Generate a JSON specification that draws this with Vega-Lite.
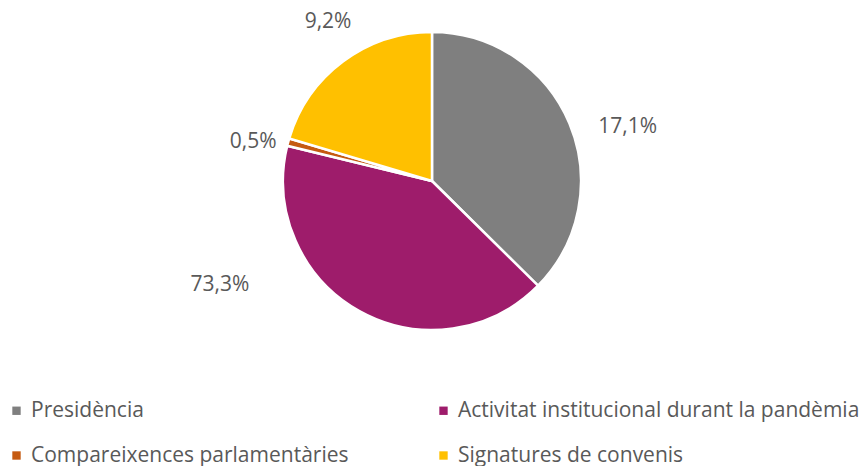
{
  "$schema": "https://vega.github.io/schema/vega-lite/v6.json",
  "width": 864,
  "height": 362,
  "autosize": {"type": "none"},
  "padding": {"top": 0, "left": 0, "right": 0, "bottom": 104},
  "background": "white",
  "config": {"view": {"stroke": null}, "font": "Open Sans"},
  "data": {
    "values": [
      {"category": "Presidència", "share": 37.4, "label": "17,1%", "rank": 1},
      {"category": "Activitat institucional durant la pandèmia", "share": 41.4, "label": "73,3%", "rank": 2},
      {"category": "Compareixences parlamentàries", "share": 0.8, "label": "0,5%", "rank": 3},
      {"category": "Signatures de convenis", "share": 20.4, "label": "9,2%", "rank": 4}
    ]
  },
  "transform": [
    {"stack": "share", "groupby": [], "sort": [{"field": "rank", "order": "ascending"}], "as": ["s0", "s1"]}
  ],
  "layer": [
    {
      "mark": {"type": "arc", "outerRadius": 149, "stroke": "white", "strokeWidth": 2.5},
      "encoding": {
        "theta": {"field": "s0", "type": "quantitative", "stack": null, "scale": {"domain": [0, 100]}},
        "theta2": {"field": "s1"},
        "color": {
          "field": "category",
          "type": "nominal",
          "sort": null,
          "scale": {
            "domain": ["Presidència", "Activitat institucional durant la pandèmia", "Compareixences parlamentàries", "Signatures de convenis"],
            "range": ["#7f7f7f", "#9e1c6b", "#c55a11", "#ffc000"]
          },
          "legend": {
            "title": null,
            "orient": "none",
            "legendX": 6,
            "legendY": 400,
            "direction": "horizontal",
            "columns": 2,
            "columnPadding": 84,
            "rowPadding": 23,
            "symbolType": "square",
            "symbolSize": 70,
            "symbolStrokeWidth": 0,
            "labelFont": "Open Sans",
            "labelFontSize": 21,
            "labelColor": "#595959",
            "labelLimit": 500,
            "labelOffset": 4
          }
        }
      }
    },
    {
      "transform": [{"filter": "datum.rank == 1"}],
      "mark": {"type": "text", "radius": 203, "thetaOffset": -1.047, "fontSize": 21, "fill": "#595959"},
      "encoding": {"theta": {"field": "s1", "type": "quantitative", "stack": null}, "text": {"field": "label"}}
    },
    {
      "transform": [{"filter": "datum.rank == 2"}],
      "mark": {"type": "text", "radius": 236, "thetaOffset": -0.693, "fontSize": 21, "fill": "#595959"},
      "encoding": {"theta": {"field": "s1", "type": "quantitative", "stack": null}, "text": {"field": "label"}}
    },
    {
      "transform": [{"filter": "datum.rank == 3"}],
      "mark": {"type": "text", "radius": 183, "thetaOffset": -0.074, "fontSize": 21, "fill": "#595959"},
      "encoding": {"theta": {"field": "s1", "type": "quantitative", "stack": null}, "text": {"field": "label"}}
    },
    {
      "transform": [{"filter": "datum.rank == 4"}],
      "mark": {"type": "text", "radius": 190, "thetaOffset": -0.579, "fontSize": 21, "fill": "#595959"},
      "encoding": {"theta": {"field": "s1", "type": "quantitative", "stack": null}, "text": {"field": "label"}}
    }
  ]
}
